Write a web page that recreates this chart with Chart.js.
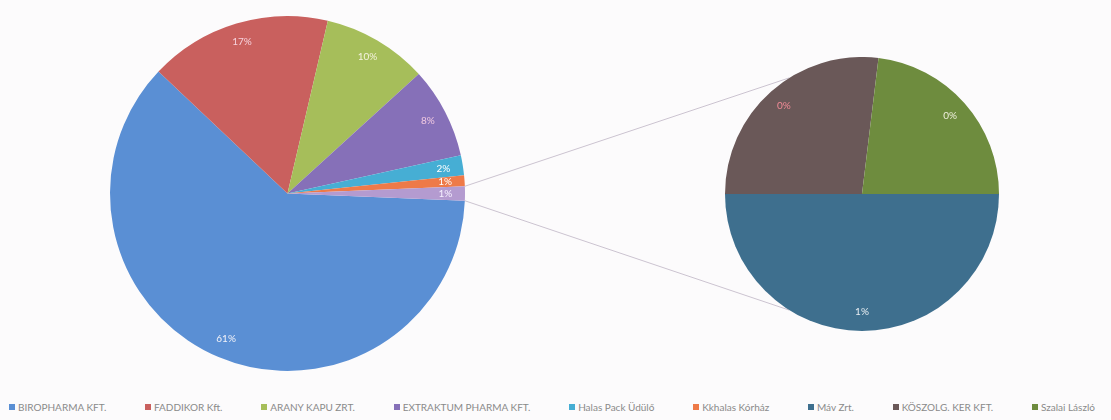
<!DOCTYPE html>
<html>
<head>
<meta charset="utf-8">
<script src="https://cdn.jsdelivr.net/npm/chart.js@4.4.0/dist/chart.umd.min.js"></script>
<style>
  body { margin: 0; background: #fcfbfc; }
  #wrap { position: relative; width: 1111px; height: 420px; overflow: hidden; }
  #mainPie { position: absolute; left: 0; top: 0; }
  #subPie { position: absolute; left: 725px; top: 57px; }
  #legend {
    position: absolute; left: 9px; width: 1086px; top: 400px; height: 14px;
    display: flex; justify-content: space-between;
    font: 10px Lato, sans-serif; color: #8a8a8a; line-height: 14px;
  }
  .item { display: flex; align-items: center; white-space: nowrap; }
  .box { width: 6px; height: 6px; margin-right: 3px; }
</style>
</head>
<body>
<div id="wrap">
  <canvas id="mainPie" width="1111" height="390"></canvas>
  <canvas id="subPie" width="274" height="274"></canvas>
  <div id="legend"></div>
</div>
<script>
const companies = ["BIROPHARMA KFT.", "FADDIKOR Kft.", "ARANY KAPU ZRT.", "EXTRAKTUM PHARMA KFT.",
  "Halas Pack Üdülő", "Kkhalas Kórház", "Máv Zrt.", "KÖSZOLG. KER KFT.", "Szalai László"];
const shares = [61.4, 16.6, 9.6, 8.3, 1.8, 1.0, 0.65, 0.35, 0.30];
const colors = ["#5a8fd4", "#c9605e", "#a6be5a", "#8670b8", "#46aed4", "#ee7a48", "#3e6f8e", "#6a5858", "#6e8c3e"];
const otherColor = "#b49bd0";
const secondPieCount = 3; // last three go into the small pie

const mainLabelColors = ["#f2f2f8", "#f6d2dc", "#f4f2dc", "#f0c8e0", "#ffffff", "#ffffff", "#f6f0ff"];
const subLabelColors = ["#e8eef2", "#f08a96", "#eeeedc"];

const total = shares.reduce((a, b) => a + b, 0);
const firstCount = shares.length - secondPieCount;
const subValues = shares.slice(firstCount);
const otherValue = subValues.reduce((a, b) => a + b, 0);
const mainValues = shares.slice(0, firstCount).concat([otherValue]);
const mainColors = colors.slice(0, firstCount).concat([otherColor]);
const subColors = colors.slice(firstCount);

// percentage labels inside the slices
const sliceLabels = {
  id: 'sliceLabels',
  afterDatasetsDraw(chart, args, opts) {
    const ctx = chart.ctx;
    const values = chart.data.datasets[0].data;
    ctx.save();
    ctx.font = '10px Lato';
    ctx.textAlign = 'center';
    ctx.textBaseline = 'middle';
    chart.getDatasetMeta(0).data.forEach((arc, i) => {
      const mid = (arc.startAngle + arc.endAngle) / 2;
      const r = arc.outerRadius * opts.radius;
      ctx.fillStyle = opts.colors[i];
      ctx.fillText(Math.round(values[i] / total * 100) + '%', arc.x + Math.cos(mid) * r, arc.y + Math.sin(mid) * r);
    });
    ctx.restore();
  }
};

const subCanvas = document.getElementById('subPie');
const mainCanvas = document.getElementById('mainPie');

const subChart = new Chart(subCanvas.getContext('2d'), {
  type: 'pie',
  data: {
    labels: companies.slice(firstCount),
    datasets: [{ data: subValues, backgroundColor: subColors, borderWidth: 0 }]
  },
  options: {
    responsive: false,
    animation: false,
    rotation: 90,
    plugins: {
      legend: { display: false },
      tooltip: { enabled: false },
      sliceLabels: { radius: 0.86, colors: subLabelColors }
    }
  },
  plugins: [sliceLabels]
});

// grey lines from the "other" slice to the small pie
const connectors = {
  id: 'connectors',
  afterDraw(chart) {
    const meta = chart.getDatasetMeta(0);
    const other = meta.data[meta.data.length - 1];
    const sub = subChart.getDatasetMeta(0).data[0];
    const cx = sub.x + subCanvas.offsetLeft - mainCanvas.offsetLeft;
    const cy = sub.y + subCanvas.offsetTop - mainCanvas.offsetTop;
    const tilt = 32 * Math.PI / 180;
    const ends = [-Math.PI / 2 - tilt, Math.PI / 2 + tilt];
    const starts = [other.startAngle, other.endAngle];
    const ctx = chart.ctx;
    ctx.save();
    ctx.strokeStyle = '#cbc3d0';
    ctx.lineWidth = 1;
    for (let k = 0; k < 2; k++) {
      ctx.beginPath();
      ctx.moveTo(other.x + Math.cos(starts[k]) * other.outerRadius, other.y + Math.sin(starts[k]) * other.outerRadius);
      ctx.lineTo(cx + Math.cos(ends[k]) * sub.outerRadius, cy + Math.sin(ends[k]) * sub.outerRadius);
      ctx.stroke();
    }
    ctx.restore();
  }
};

const mainChart = new Chart(mainCanvas.getContext('2d'), {
  type: 'pie',
  data: {
    labels: companies.slice(0, firstCount).concat(['Egyéb']),
    datasets: [{ data: mainValues, backgroundColor: mainColors, borderWidth: 0 }]
  },
  options: {
    responsive: false,
    animation: false,
    // centre the "other" slice on the right side
    rotation: 90 + otherValue / total * 180,
    layout: { padding: { left: 110, right: 646, top: 10, bottom: 13 } },
    plugins: {
      legend: { display: false },
      tooltip: { enabled: false },
      sliceLabels: { radius: 0.89, colors: mainLabelColors }
    }
  },
  plugins: [sliceLabels, connectors]
});

// legend row under both pies
const legendBox = document.getElementById('legend');
companies.forEach((name, i) => {
  const item = document.createElement('div');
  item.className = 'item';
  const box = document.createElement('span');
  box.className = 'box';
  box.style.background = colors[i];
  item.appendChild(box);
  item.appendChild(document.createTextNode(name));
  legendBox.appendChild(item);
});
</script>
</body>
</html>
